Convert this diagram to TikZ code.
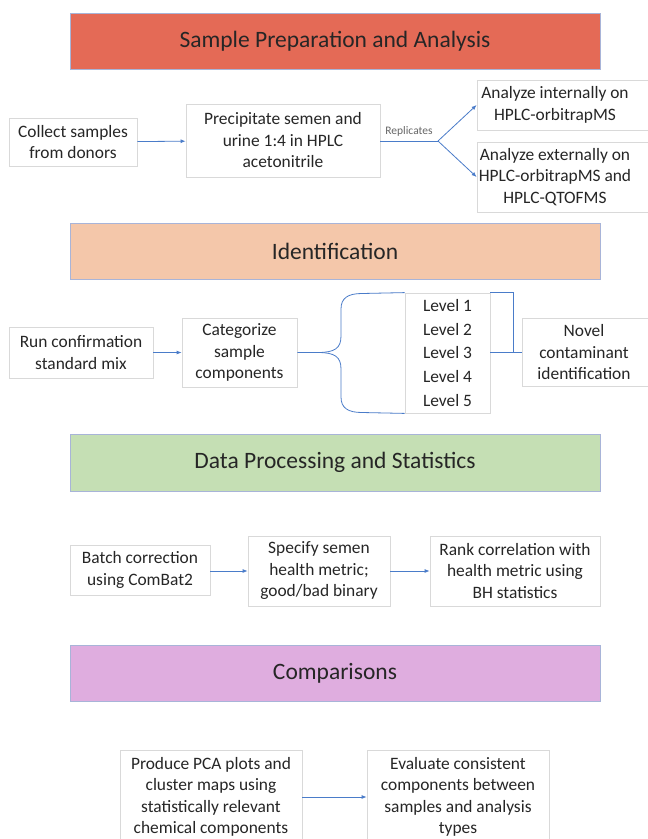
\documentclass[tikz,border=0pt]{standalone}
\usepackage{fontspec}
\setmainfont{Carlito}
\usetikzlibrary{arrows.meta}
\definecolor{hred}{HTML}{E46A56}
\definecolor{horange}{HTML}{F4C7AA}
\definecolor{hgreen}{HTML}{C5DFB4}
\definecolor{hpurple}{HTML}{DFADDF}
\definecolor{hedge}{HTML}{A8B4D8}
\definecolor{boxedge}{HTML}{D9D9D9}
\definecolor{arrowblue}{HTML}{4A7CC9}
\definecolor{txt}{HTML}{262626}
\begin{document}
\begin{tikzpicture}[x=1pt,y=-1pt,
 header/.style={draw=hedge, line width=1pt, minimum width=530, minimum height=56, inner sep=0, font=\fontsize{23.5}{26}\selectfont, text=txt},
 box/.style={draw=boxedge, line width=0.8pt, fill=white, inner sep=0, align=center, font=\fontsize{17.4}{21.5}\selectfont, text=txt},
 lbl/.style={inner sep=0, align=center, font=\fontsize{17.4}{21.5}\selectfont, text=txt},
 conn/.style={draw=arrowblue, line width=0.8pt},
 arr/.style={conn, -{Latex[length=5pt,width=4pt]}}
]
\useasboundingbox[fill=white] (0,0) rectangle (648,839);

% headers
\node[header, fill=hred] (h1) at (335,41) {Sample Preparation and Analysis};
\node[header, fill=horange] (h2) at (335,251) {Identification};
\node[header, fill=hgreen, minimum height=57] (h3) at (335,462.5) {Data Processing and Statistics};
\node[header, fill=hpurple] (h4) at (335,673) {Comparisons};

% row 1
\node[box, minimum width=128, minimum height=48] (collect) at (73,142) {Collect samples\\from donors};
\node[box, minimum width=194, minimum height=73] (prec) at (283,140.5) {Precipitate semen and\\urine 1:4 in HPLC\\acetonitrile};
\node[box, minimum width=183, minimum height=50] (int) at (568.5,105) {};
\node[lbl] (intt) at (555,105) {Analyze internally on\\HPLC-orbitrapMS};
\node[box, minimum width=183, minimum height=70] (ext) at (568.5,177) {};
\node[lbl] (extt) at (555,177) {Analyze externally on\\HPLC-orbitrapMS and\\HPLC-QTOFMS};
\coordinate (fork) at (438,141);
\node[inner sep=0, font=\fontsize{11.5}{13}\selectfont, text=black!60] (rep) at (409,131) {Replicates};
\draw[arr] (collect) -- (prec);
\draw[conn] (prec.east |- fork) -- (fork);
\draw[arr] (fork) -- (int.west);
\draw[arr] (fork) -- (ext.west);

% row 2
\node[box, minimum width=144, minimum height=51] (run) at (81,352.5) {Run confirmation\\standard mix};
\node[box, minimum width=115, minimum height=69] (cat) at (239.5,352.5) {Categorize\\sample\\components};
\node[box, minimum width=85, minimum height=120, font=\fontsize{17.4}{23.7}\selectfont] (lev) at (447.5,353) {Level 1\\Level 2\\Level 3\\Level 4\\Level 5};
\node[box, minimum width=138, minimum height=68] (novel) at (591,352.5) {};
\node[lbl] (novelt) at (584,352.5) {Novel\\contaminant\\identification};
\draw[arr] (run) -- (cat);
\coordinate (bmid) at (318,352.5);
\draw[conn] (cat.east) -- (bmid)
  .. controls (335,352.5) and (341,348) .. (341,336) -- (341,309)
  .. controls (341,298) and (348,293.5) .. (362,293.5) -- (lev.north west);
\draw[conn] (bmid)
  .. controls (335,352.5) and (341,357) .. (341,369) -- (341,397)
  .. controls (341,408) and (348,412.5) .. (362,412.5) -- (lev.south west);
\coordinate (bj) at (513,352.5);
\draw[conn] (lev.north east) -| (bj);
\draw[conn] (lev.east |- novel.west) -- (novel.west);

% row 3
\node[box, minimum width=140, minimum height=50] (batch) at (140,570) {Batch correction\\using ComBat2};
\node[box, minimum width=142, minimum height=70] (spec) at (319,571) {Specify semen\\health metric;\\good/bad binary};
\node[box, minimum width=170, minimum height=70] (rank) at (515,571) {Rank correlation with\\health metric using\\BH statistics};
\draw[arr] (batch.east |- spec.west) -- (spec.west);
\draw[arr] (spec) -- (rank);

% row 4
\node[box, minimum width=182, minimum height=94] (prod) at (211,797) {Produce PCA plots and\\cluster maps using\\statistically relevant\\chemical components};
\node[box, minimum width=182, minimum height=94] (eval) at (458,797) {Evaluate consistent\\components between\\samples and analysis\\types};
\draw[arr] (prod) -- (eval);
\end{tikzpicture}
\end{document}
